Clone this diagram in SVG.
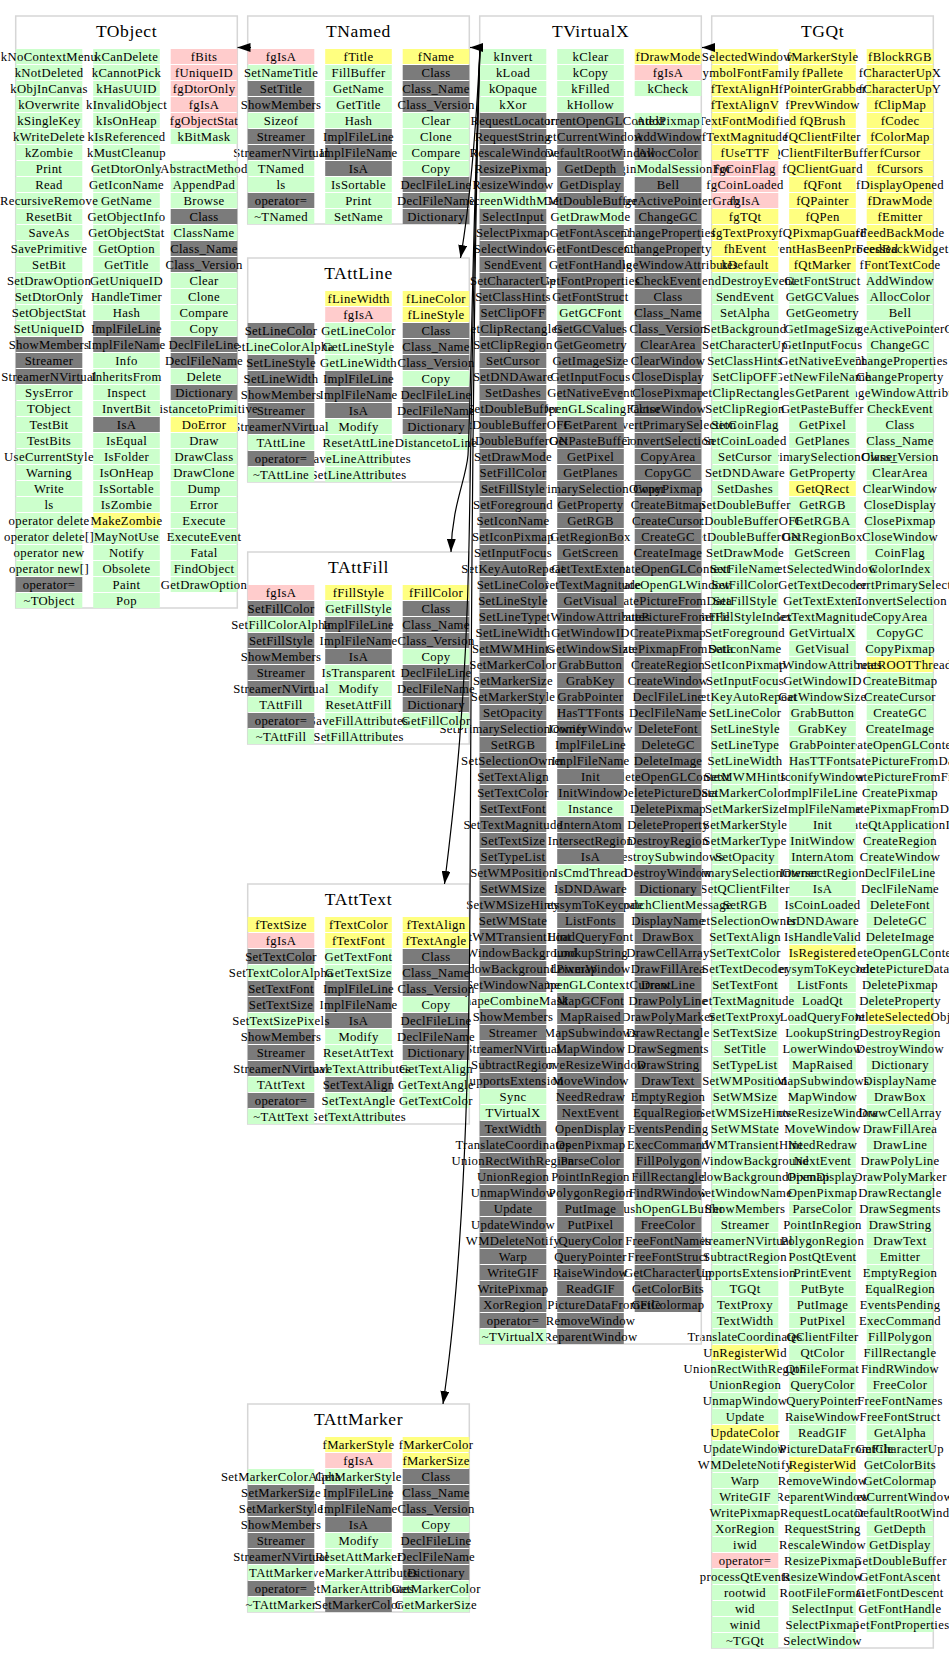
<svg xmlns="http://www.w3.org/2000/svg" width="949" height="1664" viewBox="0 0 949 1664">
<style>
.b{fill:none;stroke:#d6d6d6;stroke-width:1.5}
.n text{font-family:"Liberation Serif",serif;font-size:12.7px;letter-spacing:.35px;text-anchor:middle;fill:#000}
.n text.t{font-size:17.5px;letter-spacing:.6px}
.g{fill:url(#pg)}.y{fill:url(#py)}.p{fill:url(#pp)}.d{fill:url(#pd)}
.e path{fill:none;stroke:#000;stroke-width:1.2;marker-end:url(#ah)}
</style>
<defs>
<pattern id="pg" x="-40" width="80" height="16" patternUnits="userSpaceOnUse"><rect width="80" height="15" fill="#ccffcc"/></pattern>
<pattern id="py" x="-40" width="80" height="16" patternUnits="userSpaceOnUse"><rect width="80" height="15" fill="#ffff80"/></pattern>
<pattern id="pp" x="-40" width="80" height="16" patternUnits="userSpaceOnUse"><rect width="80" height="15" fill="#ffcccc"/></pattern>
<pattern id="pd" x="-40" width="80" height="16" patternUnits="userSpaceOnUse"><rect width="80" height="15" fill="#7b7b7b"/></pattern>
<marker id="ah" viewBox="0 0 13 9" refX="13" refY="4.5" markerWidth="13" markerHeight="9" markerUnits="userSpaceOnUse" orient="auto"><path d="M0,0L13,4.5L0,9z" fill="#000"/></marker>
</defs>
<rect width="949" height="1664" fill="#fff"/>

<g id="TGQt" class="n">
<rect class="b" x="711.7" y="16" width="221.6" height="1632"/>
<text class="t" x="822.5" y="36.5">TGQt</text>
<g transform="translate(900,49)">
<rect class="y" x="-33.3" y="0" width="66.6" height="224"/><rect class="g" x="-33.3" y="224" width="66.6" height="384"/><rect class="y" x="-33.3" y="608" width="66.6" height="16"/><rect class="g" x="-33.3" y="624" width="66.6" height="336"/><rect class="y" x="-33.3" y="960" width="66.6" height="16"/><rect class="g" x="-33.3" y="976" width="66.6" height="608"/>
<text y="12">fBlockRGB</text><text y="28">fCharacterUpX</text><text y="44">fCharacterUpY</text><text y="60">fClipMap</text><text y="76">fCodec</text><text y="92">fColorMap</text><text y="108">fCursor</text><text y="124">fCursors</text><text y="140">fDisplayOpened</text><text y="156">fDrawMode</text><text y="172">fEmitter</text><text y="188">fFeedBackMode</text><text y="204">fFeedBackWidget</text><text y="220">fFontTextCode</text><text y="236">AddWindow</text><text y="252">AllocColor</text><text y="268">Bell</text><text y="284">ChangeActivePointerGrab</text><text y="300">ChangeGC</text><text y="316">ChangeProperties</text><text y="332">ChangeProperty</text><text y="348">ChangeWindowAttributes</text><text y="364">CheckEvent</text><text y="380">Class</text><text y="396">Class_Name</text><text y="412">Class_Version</text><text y="428">ClearArea</text><text y="444">ClearWindow</text><text y="460">CloseDisplay</text><text y="476">ClosePixmap</text><text y="492">CloseWindow</text><text y="508">CoinFlag</text><text y="524">ColorIndex</text><text y="540">ConvertPrimarySelection</text><text y="556">ConvertSelection</text><text y="572">CopyArea</text><text y="588">CopyGC</text><text y="604">CopyPixmap</text><text y="620">CreatROOTThread</text><text y="636">CreateBitmap</text><text y="652">CreateCursor</text><text y="668">CreateGC</text><text y="684">CreateImage</text><text y="700">CreateOpenGLContext</text><text y="716">CreatePictureFromData</text><text y="732">CreatePictureFromFile</text><text y="748">CreatePixmap</text><text y="764">CreatePixmapFromData</text><text y="780">CreateQtApplicationImp</text><text y="796">CreateRegion</text><text y="812">CreateWindow</text><text y="828">DeclFileLine</text><text y="844">DeclFileName</text><text y="860">DeleteFont</text><text y="876">DeleteGC</text><text y="892">DeleteImage</text><text y="908">DeleteOpenGLContext</text><text y="924">DeletePictureData</text><text y="940">DeletePixmap</text><text y="956">DeleteProperty</text><text y="972">DeleteSelectedObj</text><text y="988">DestroyRegion</text><text y="1004">DestroyWindow</text><text y="1020">Dictionary</text><text y="1036">DisplayName</text><text y="1052">DrawBox</text><text y="1068">DrawCellArray</text><text y="1084">DrawFillArea</text><text y="1100">DrawLine</text><text y="1116">DrawPolyLine</text><text y="1132">DrawPolyMarker</text><text y="1148">DrawRectangle</text><text y="1164">DrawSegments</text><text y="1180">DrawString</text><text y="1196">DrawText</text><text y="1212">Emitter</text><text y="1228">EmptyRegion</text><text y="1244">EqualRegion</text><text y="1260">EventsPending</text><text y="1276">ExecCommand</text><text y="1292">FillPolygon</text><text y="1308">FillRectangle</text><text y="1324">FindRWindow</text><text y="1340">FreeColor</text><text y="1356">FreeFontNames</text><text y="1372">FreeFontStruct</text><text y="1388">GetAlpha</text><text y="1404">GetCharacterUp</text><text y="1420">GetColorBits</text><text y="1436">GetColormap</text><text y="1452">GetCurrentWindow</text><text y="1468">GetDefaultRootWindow</text><text y="1484">GetDepth</text><text y="1500">GetDisplay</text><text y="1516">GetDoubleBuffer</text><text y="1532">GetFontAscent</text><text y="1548">GetFontDescent</text><text y="1564">GetFontHandle</text><text y="1580">GetFontProperties</text>
</g>
<g transform="translate(822.5,49)">
<rect class="y" x="-33.3" y="0" width="66.6" height="224"/><rect class="g" x="-33.3" y="224" width="66.6" height="208"/><rect class="y" x="-33.3" y="432" width="66.6" height="16"/><rect class="g" x="-33.3" y="448" width="66.6" height="448"/><rect class="y" x="-33.3" y="896" width="66.6" height="16"/><rect class="g" x="-33.3" y="912" width="66.6" height="496"/><rect class="y" x="-33.3" y="1408" width="66.6" height="16"/><rect class="g" x="-33.3" y="1424" width="66.6" height="176"/>
<text y="12">fMarkerStyle</text><text y="28">fPallete</text><text y="44">fPointerGrabber</text><text y="60">fPrevWindow</text><text y="76">fQBrush</text><text y="92">fQClientFilter</text><text y="108">fQClientFilterBuffer</text><text y="124">fQClientGuard</text><text y="140">fQFont</text><text y="156">fQPainter</text><text y="172">fQPen</text><text y="188">fQPixmapGuard</text><text y="204">fQtEventHasBeenProcessed</text><text y="220">fQtMarker</text><text y="236">GetFontStruct</text><text y="252">GetGCValues</text><text y="268">GetGeometry</text><text y="284">GetImageSize</text><text y="300">GetInputFocus</text><text y="316">GetNativeEvent</text><text y="332">GetNewFileName</text><text y="348">GetParent</text><text y="364">GetPasteBuffer</text><text y="380">GetPixel</text><text y="396">GetPlanes</text><text y="412">GetPrimarySelectionOwner</text><text y="428">GetProperty</text><text y="444">GetQRect</text><text y="460">GetRGB</text><text y="476">GetRGBA</text><text y="492">GetRegionBox</text><text y="508">GetScreen</text><text y="524">GetSelectedWindow</text><text y="540">GetTextDecoder</text><text y="556">GetTextExtent</text><text y="572">GetTextMagnitude</text><text y="588">GetVirtualX</text><text y="604">GetVisual</text><text y="620">GetWindowAttributes</text><text y="636">GetWindowID</text><text y="652">GetWindowSize</text><text y="668">GrabButton</text><text y="684">GrabKey</text><text y="700">GrabPointer</text><text y="716">HasTTFonts</text><text y="732">IconifyWindow</text><text y="748">ImplFileLine</text><text y="764">ImplFileName</text><text y="780">Init</text><text y="796">InitWindow</text><text y="812">InternAtom</text><text y="828">IntersectRegion</text><text y="844">IsA</text><text y="860">IsCoinLoaded</text><text y="876">IsDNDAware</text><text y="892">IsHandleValid</text><text y="908">IsRegistered</text><text y="924">KeysymToKeycode</text><text y="940">ListFonts</text><text y="956">LoadQt</text><text y="972">LoadQueryFont</text><text y="988">LookupString</text><text y="1004">LowerWindow</text><text y="1020">MapRaised</text><text y="1036">MapSubwindows</text><text y="1052">MapWindow</text><text y="1068">MoveResizeWindow</text><text y="1084">MoveWindow</text><text y="1100">NeedRedraw</text><text y="1116">NextEvent</text><text y="1132">OpenDisplay</text><text y="1148">OpenPixmap</text><text y="1164">ParseColor</text><text y="1180">PointInRegion</text><text y="1196">PolygonRegion</text><text y="1212">PostQtEvent</text><text y="1228">PrintEvent</text><text y="1244">PutByte</text><text y="1260">PutImage</text><text y="1276">PutPixel</text><text y="1292">QClientFilter</text><text y="1308">QtColor</text><text y="1324">QtFileFormat</text><text y="1340">QueryColor</text><text y="1356">QueryPointer</text><text y="1372">RaiseWindow</text><text y="1388">ReadGIF</text><text y="1404">ReadPictureDataFromFile</text><text y="1420">RegisterWid</text><text y="1436">RemoveWindow</text><text y="1452">ReparentWindow</text><text y="1468">RequestLocator</text><text y="1484">RequestString</text><text y="1500">RescaleWindow</text><text y="1516">ResizePixmap</text><text y="1532">ResizeWindow</text><text y="1548">RootFileFormat</text><text y="1564">SelectInput</text><text y="1580">SelectPixmap</text><text y="1596">SelectWindow</text>
</g>
<g transform="translate(745,49)">
<rect class="y" x="-33.3" y="0" width="66.6" height="112"/><rect class="p" x="-33.3" y="112" width="66.6" height="48"/><rect class="y" x="-33.3" y="160" width="66.6" height="64"/><rect class="g" x="-33.3" y="224" width="66.6" height="1072"/><rect class="y" x="-33.3" y="1296" width="66.6" height="16"/><rect class="g" x="-33.3" y="1312" width="66.6" height="64"/><rect class="y" x="-33.3" y="1376" width="66.6" height="16"/><rect class="g" x="-33.3" y="1392" width="66.6" height="112"/><rect class="p" x="-33.3" y="1504" width="66.6" height="16"/><rect class="g" x="-33.3" y="1520" width="66.6" height="80"/>
<text y="12">fSelectedWindow</text><text y="28">fSymbolFontFamily</text><text y="44">fTextAlignH</text><text y="60">fTextAlignV</text><text y="76">fTextFontModified</text><text y="92">fTextMagnitude</text><text y="108">fUseTTF</text><text y="124">fgCoinFlag</text><text y="140">fgCoinLoaded</text><text y="156">fgIsA</text><text y="172">fgTQt</text><text y="188">fgTextProxy</text><text y="204">fhEvent</text><text y="220">kDefault</text><text y="236">SendDestroyEvent</text><text y="252">SendEvent</text><text y="268">SetAlpha</text><text y="284">SetBackground</text><text y="300">SetCharacterUp</text><text y="316">SetClassHints</text><text y="332">SetClipOFF</text><text y="348">SetClipRectangles</text><text y="364">SetClipRegion</text><text y="380">SetCoinFlag</text><text y="396">SetCoinLoaded</text><text y="412">SetCursor</text><text y="428">SetDNDAware</text><text y="444">SetDashes</text><text y="460">SetDoubleBuffer</text><text y="476">SetDoubleBufferOFF</text><text y="492">SetDoubleBufferON</text><text y="508">SetDrawMode</text><text y="524">SetFileName</text><text y="540">SetFillColor</text><text y="556">SetFillStyle</text><text y="572">SetFillStyleIndex</text><text y="588">SetForeground</text><text y="604">SetIconName</text><text y="620">SetIconPixmap</text><text y="636">SetInputFocus</text><text y="652">SetKeyAutoRepeat</text><text y="668">SetLineColor</text><text y="684">SetLineStyle</text><text y="700">SetLineType</text><text y="716">SetLineWidth</text><text y="732">SetMWMHints</text><text y="748">SetMarkerColor</text><text y="764">SetMarkerSize</text><text y="780">SetMarkerStyle</text><text y="796">SetMarkerType</text><text y="812">SetOpacity</text><text y="828">SetPrimarySelectionOwner</text><text y="844">SetQClientFilter</text><text y="860">SetRGB</text><text y="876">SetSelectionOwner</text><text y="892">SetTextAlign</text><text y="908">SetTextColor</text><text y="924">SetTextDecoder</text><text y="940">SetTextFont</text><text y="956">SetTextMagnitude</text><text y="972">SetTextProxy</text><text y="988">SetTextSize</text><text y="1004">SetTitle</text><text y="1020">SetTypeList</text><text y="1036">SetWMPosition</text><text y="1052">SetWMSize</text><text y="1068">SetWMSizeHints</text><text y="1084">SetWMState</text><text y="1100">SetWMTransientHint</text><text y="1116">SetWindowBackground</text><text y="1132">SetWindowBackgroundPixmap</text><text y="1148">SetWindowName</text><text y="1164">ShowMembers</text><text y="1180">Streamer</text><text y="1196">StreamerNVirtual</text><text y="1212">SubtractRegion</text><text y="1228">SupportsExtension</text><text y="1244">TGQt</text><text y="1260">TextProxy</text><text y="1276">TextWidth</text><text y="1292">TranslateCoordinates</text><text y="1308">UnRegisterWid</text><text y="1324">UnionRectWithRegion</text><text y="1340">UnionRegion</text><text y="1356">UnmapWindow</text><text y="1372">Update</text><text y="1388">UpdateColor</text><text y="1404">UpdateWindow</text><text y="1420">WMDeleteNotify</text><text y="1436">Warp</text><text y="1452">WriteGIF</text><text y="1468">WritePixmap</text><text y="1484">XorRegion</text><text y="1500">iwid</text><text y="1516">operator=</text><text y="1532">processQtEvents</text><text y="1548">rootwid</text><text y="1564">wid</text><text y="1580">winid</text><text y="1596">~TGQt</text>
</g>
</g>

<g id="TVirtualX" class="n">
<rect class="b" x="479.7" y="16" width="221.6" height="1328"/>
<text class="t" x="590.5" y="36.5">TVirtualX</text>
<g transform="translate(668,49)">
<rect class="y" x="-33.3" y="0" width="66.6" height="16"/><rect class="p" x="-33.3" y="16" width="66.6" height="16"/><rect class="g" x="-33.3" y="32" width="66.6" height="16"/><rect class="g" x="-33.3" y="64" width="66.6" height="16"/><rect class="d" x="-33.3" y="80" width="66.6" height="32"/><rect class="g" x="-33.3" y="112" width="66.6" height="16"/><rect class="d" x="-33.3" y="128" width="66.6" height="400"/><rect class="g" x="-33.3" y="528" width="66.6" height="16"/><rect class="d" x="-33.3" y="544" width="66.6" height="256"/><rect class="g" x="-33.3" y="800" width="66.6" height="16"/><rect class="d" x="-33.3" y="816" width="66.6" height="32"/><rect class="g" x="-33.3" y="848" width="66.6" height="16"/><rect class="d" x="-33.3" y="864" width="66.6" height="288"/><rect class="g" x="-33.3" y="1152" width="66.6" height="16"/><rect class="d" x="-33.3" y="1168" width="66.6" height="96"/>
<text y="12">fDrawMode</text><text y="28">fgIsA</text><text y="44">kCheck</text><text y="76">AddPixmap</text><text y="92">AddWindow</text><text y="108">AllocColor</text><text y="124">BeginModalSessionFor</text><text y="140">Bell</text><text y="156">ChangeActivePointerGrab</text><text y="172">ChangeGC</text><text y="188">ChangeProperties</text><text y="204">ChangeProperty</text><text y="220">ChangeWindowAttributes</text><text y="236">CheckEvent</text><text y="252">Class</text><text y="268">Class_Name</text><text y="284">Class_Version</text><text y="300">ClearArea</text><text y="316">ClearWindow</text><text y="332">CloseDisplay</text><text y="348">ClosePixmap</text><text y="364">CloseWindow</text><text y="380">ConvertPrimarySelection</text><text y="396">ConvertSelection</text><text y="412">CopyArea</text><text y="428">CopyGC</text><text y="444">CopyPixmap</text><text y="460">CreateBitmap</text><text y="476">CreateCursor</text><text y="492">CreateGC</text><text y="508">CreateImage</text><text y="524">CreateOpenGLContext</text><text y="540">CreateOpenGLWindow</text><text y="556">CreatePictureFromData</text><text y="572">CreatePictureFromFile</text><text y="588">CreatePixmap</text><text y="604">CreatePixmapFromData</text><text y="620">CreateRegion</text><text y="636">CreateWindow</text><text y="652">DeclFileLine</text><text y="668">DeclFileName</text><text y="684">DeleteFont</text><text y="700">DeleteGC</text><text y="716">DeleteImage</text><text y="732">DeleteOpenGLContext</text><text y="748">DeletePictureData</text><text y="764">DeletePixmap</text><text y="780">DeleteProperty</text><text y="796">DestroyRegion</text><text y="812">DestroySubwindows</text><text y="828">DestroyWindow</text><text y="844">Dictionary</text><text y="860">DispatchClientMessage</text><text y="876">DisplayName</text><text y="892">DrawBox</text><text y="908">DrawCellArray</text><text y="924">DrawFillArea</text><text y="940">DrawLine</text><text y="956">DrawPolyLine</text><text y="972">DrawPolyMarker</text><text y="988">DrawRectangle</text><text y="1004">DrawSegments</text><text y="1020">DrawString</text><text y="1036">DrawText</text><text y="1052">EmptyRegion</text><text y="1068">EqualRegion</text><text y="1084">EventsPending</text><text y="1100">ExecCommand</text><text y="1116">FillPolygon</text><text y="1132">FillRectangle</text><text y="1148">FindRWindow</text><text y="1164">FlushOpenGLBuffer</text><text y="1180">FreeColor</text><text y="1196">FreeFontNames</text><text y="1212">FreeFontStruct</text><text y="1228">GetCharacterUp</text><text y="1244">GetColorBits</text><text y="1260">GetColormap</text>
</g>
<g transform="translate(590.5,49)">
<rect class="g" x="-33.3" y="0" width="66.6" height="64"/><rect class="d" x="-33.3" y="64" width="66.6" height="96"/><rect class="g" x="-33.3" y="160" width="66.6" height="16"/><rect class="d" x="-33.3" y="176" width="66.6" height="80"/><rect class="g" x="-33.3" y="256" width="66.6" height="16"/><rect class="d" x="-33.3" y="272" width="66.6" height="80"/><rect class="g" x="-33.3" y="352" width="66.6" height="16"/><rect class="d" x="-33.3" y="368" width="66.6" height="384"/><rect class="g" x="-33.3" y="752" width="66.6" height="16"/><rect class="d" x="-33.3" y="768" width="66.6" height="48"/><rect class="g" x="-33.3" y="816" width="66.6" height="16"/><rect class="d" x="-33.3" y="832" width="66.6" height="96"/><rect class="g" x="-33.3" y="928" width="66.6" height="16"/><rect class="d" x="-33.3" y="944" width="66.6" height="352"/>
<text y="12">kClear</text><text y="28">kCopy</text><text y="44">kFilled</text><text y="60">kHollow</text><text y="76">GetCurrentOpenGLContext</text><text y="92">GetCurrentWindow</text><text y="108">GetDefaultRootWindow</text><text y="124">GetDepth</text><text y="140">GetDisplay</text><text y="156">GetDoubleBuffer</text><text y="172">GetDrawMode</text><text y="188">GetFontAscent</text><text y="204">GetFontDescent</text><text y="220">GetFontHandle</text><text y="236">GetFontProperties</text><text y="252">GetFontStruct</text><text y="268">GetGCFont</text><text y="284">GetGCValues</text><text y="300">GetGeometry</text><text y="316">GetImageSize</text><text y="332">GetInputFocus</text><text y="348">GetNativeEvent</text><text y="364">GetOpenGLScalingFactor</text><text y="380">GetParent</text><text y="396">GetPasteBuffer</text><text y="412">GetPixel</text><text y="428">GetPlanes</text><text y="444">GetPrimarySelectionOwner</text><text y="460">GetProperty</text><text y="476">GetRGB</text><text y="492">GetRegionBox</text><text y="508">GetScreen</text><text y="524">GetTextExtent</text><text y="540">GetTextMagnitude</text><text y="556">GetVisual</text><text y="572">GetWindowAttributes</text><text y="588">GetWindowID</text><text y="604">GetWindowSize</text><text y="620">GrabButton</text><text y="636">GrabKey</text><text y="652">GrabPointer</text><text y="668">HasTTFonts</text><text y="684">IconifyWindow</text><text y="700">ImplFileLine</text><text y="716">ImplFileName</text><text y="732">Init</text><text y="748">InitWindow</text><text y="764">Instance</text><text y="780">InternAtom</text><text y="796">IntersectRegion</text><text y="812">IsA</text><text y="828">IsCmdThread</text><text y="844">IsDNDAware</text><text y="860">KeysymToKeycode</text><text y="876">ListFonts</text><text y="892">LoadQueryFont</text><text y="908">LookupString</text><text y="924">LowerWindow</text><text y="940">MakeOpenGLContextCurrent</text><text y="956">MapGCFont</text><text y="972">MapRaised</text><text y="988">MapSubwindows</text><text y="1004">MapWindow</text><text y="1020">MoveResizeWindow</text><text y="1036">MoveWindow</text><text y="1052">NeedRedraw</text><text y="1068">NextEvent</text><text y="1084">OpenDisplay</text><text y="1100">OpenPixmap</text><text y="1116">ParseColor</text><text y="1132">PointInRegion</text><text y="1148">PolygonRegion</text><text y="1164">PutImage</text><text y="1180">PutPixel</text><text y="1196">QueryColor</text><text y="1212">QueryPointer</text><text y="1228">RaiseWindow</text><text y="1244">ReadGIF</text><text y="1260">ReadPictureDataFromFile</text><text y="1276">RemoveWindow</text><text y="1292">ReparentWindow</text>
</g>
<g transform="translate(513,49)">
<rect class="g" x="-33.3" y="0" width="66.6" height="64"/><rect class="d" x="-33.3" y="64" width="66.6" height="80"/><rect class="g" x="-33.3" y="144" width="66.6" height="16"/><rect class="d" x="-33.3" y="160" width="66.6" height="784"/><rect class="g" x="-33.3" y="944" width="66.6" height="16"/><rect class="d" x="-33.3" y="960" width="66.6" height="80"/><rect class="g" x="-33.3" y="1040" width="66.6" height="32"/><rect class="d" x="-33.3" y="1072" width="66.6" height="208"/><rect class="g" x="-33.3" y="1280" width="66.6" height="16"/>
<text y="12">kInvert</text><text y="28">kLoad</text><text y="44">kOpaque</text><text y="60">kXor</text><text y="76">RequestLocator</text><text y="92">RequestString</text><text y="108">RescaleWindow</text><text y="124">ResizePixmap</text><text y="140">ResizeWindow</text><text y="156">ScreenWidthMM</text><text y="172">SelectInput</text><text y="188">SelectPixmap</text><text y="204">SelectWindow</text><text y="220">SendEvent</text><text y="236">SetCharacterUp</text><text y="252">SetClassHints</text><text y="268">SetClipOFF</text><text y="284">SetClipRectangles</text><text y="300">SetClipRegion</text><text y="316">SetCursor</text><text y="332">SetDNDAware</text><text y="348">SetDashes</text><text y="364">SetDoubleBuffer</text><text y="380">SetDoubleBufferOFF</text><text y="396">SetDoubleBufferON</text><text y="412">SetDrawMode</text><text y="428">SetFillColor</text><text y="444">SetFillStyle</text><text y="460">SetForeground</text><text y="476">SetIconName</text><text y="492">SetIconPixmap</text><text y="508">SetInputFocus</text><text y="524">SetKeyAutoRepeat</text><text y="540">SetLineColor</text><text y="556">SetLineStyle</text><text y="572">SetLineType</text><text y="588">SetLineWidth</text><text y="604">SetMWMHints</text><text y="620">SetMarkerColor</text><text y="636">SetMarkerSize</text><text y="652">SetMarkerStyle</text><text y="668">SetOpacity</text><text y="684">SetPrimarySelectionOwner</text><text y="700">SetRGB</text><text y="716">SetSelectionOwner</text><text y="732">SetTextAlign</text><text y="748">SetTextColor</text><text y="764">SetTextFont</text><text y="780">SetTextMagnitude</text><text y="796">SetTextSize</text><text y="812">SetTypeList</text><text y="828">SetWMPosition</text><text y="844">SetWMSize</text><text y="860">SetWMSizeHints</text><text y="876">SetWMState</text><text y="892">SetWMTransientHint</text><text y="908">SetWindowBackground</text><text y="924">SetWindowBackgroundPixmap</text><text y="940">SetWindowName</text><text y="956">ShapeCombineMask</text><text y="972">ShowMembers</text><text y="988">Streamer</text><text y="1004">StreamerNVirtual</text><text y="1020">SubtractRegion</text><text y="1036">SupportsExtension</text><text y="1052">Sync</text><text y="1068">TVirtualX</text><text y="1084">TextWidth</text><text y="1100">TranslateCoordinates</text><text y="1116">UnionRectWithRegion</text><text y="1132">UnionRegion</text><text y="1148">UnmapWindow</text><text y="1164">Update</text><text y="1180">UpdateWindow</text><text y="1196">WMDeleteNotify</text><text y="1212">Warp</text><text y="1228">WriteGIF</text><text y="1244">WritePixmap</text><text y="1260">XorRegion</text><text y="1276">operator=</text><text y="1292">~TVirtualX</text>
</g>
</g>

<g id="TAttMarker" class="n">
<rect class="b" x="247.7" y="1404" width="221.6" height="208"/>
<text class="t" x="358.5" y="1424.5">TAttMarker</text>
<g transform="translate(436,1437)">
<rect class="y" x="-33.3" y="0" width="66.6" height="32"/><rect class="d" x="-33.3" y="32" width="66.6" height="48"/><rect class="g" x="-33.3" y="80" width="66.6" height="16"/><rect class="d" x="-33.3" y="96" width="66.6" height="48"/><rect class="g" x="-33.3" y="144" width="66.6" height="32"/>
<text y="12">fMarkerColor</text><text y="28">fMarkerSize</text><text y="44">Class</text><text y="60">Class_Name</text><text y="76">Class_Version</text><text y="92">Copy</text><text y="108">DeclFileLine</text><text y="124">DeclFileName</text><text y="140">Dictionary</text><text y="156">GetMarkerColor</text><text y="172">GetMarkerSize</text>
</g>
<g transform="translate(358.5,1437)">
<rect class="y" x="-33.3" y="0" width="66.6" height="16"/><rect class="p" x="-33.3" y="16" width="66.6" height="16"/><rect class="g" x="-33.3" y="32" width="66.6" height="16"/><rect class="d" x="-33.3" y="48" width="66.6" height="48"/><rect class="g" x="-33.3" y="96" width="66.6" height="64"/><rect class="d" x="-33.3" y="160" width="66.6" height="16"/>
<text y="12">fMarkerStyle</text><text y="28">fgIsA</text><text y="44">GetMarkerStyle</text><text y="60">ImplFileLine</text><text y="76">ImplFileName</text><text y="92">IsA</text><text y="108">Modify</text><text y="124">ResetAttMarker</text><text y="140">SaveMarkerAttributes</text><text y="156">SetMarkerAttributes</text><text y="172">SetMarkerColor</text>
</g>
<g transform="translate(281,1437)">
<rect class="g" x="-33.3" y="32" width="66.6" height="16"/><rect class="d" x="-33.3" y="48" width="66.6" height="80"/><rect class="g" x="-33.3" y="128" width="66.6" height="16"/><rect class="d" x="-33.3" y="144" width="66.6" height="16"/><rect class="g" x="-33.3" y="160" width="66.6" height="16"/>
<text y="44">SetMarkerColorAlpha</text><text y="60">SetMarkerSize</text><text y="76">SetMarkerStyle</text><text y="92">ShowMembers</text><text y="108">Streamer</text><text y="124">StreamerNVirtual</text><text y="140">TAttMarker</text><text y="156">operator=</text><text y="172">~TAttMarker</text>
</g>
</g>

<g id="TAttText" class="n">
<rect class="b" x="247.7" y="884" width="221.6" height="240"/>
<text class="t" x="358.5" y="904.5">TAttText</text>
<g transform="translate(436,917)">
<rect class="y" x="-33.3" y="0" width="66.6" height="32"/><rect class="d" x="-33.3" y="32" width="66.6" height="48"/><rect class="g" x="-33.3" y="80" width="66.6" height="16"/><rect class="d" x="-33.3" y="96" width="66.6" height="48"/><rect class="g" x="-33.3" y="144" width="66.6" height="48"/>
<text y="12">fTextAlign</text><text y="28">fTextAngle</text><text y="44">Class</text><text y="60">Class_Name</text><text y="76">Class_Version</text><text y="92">Copy</text><text y="108">DeclFileLine</text><text y="124">DeclFileName</text><text y="140">Dictionary</text><text y="156">GetTextAlign</text><text y="172">GetTextAngle</text><text y="188">GetTextColor</text>
</g>
<g transform="translate(358.5,917)">
<rect class="y" x="-33.3" y="0" width="66.6" height="32"/><rect class="g" x="-33.3" y="32" width="66.6" height="32"/><rect class="d" x="-33.3" y="64" width="66.6" height="48"/><rect class="g" x="-33.3" y="112" width="66.6" height="48"/><rect class="d" x="-33.3" y="160" width="66.6" height="16"/><rect class="g" x="-33.3" y="176" width="66.6" height="32"/>
<text y="12">fTextColor</text><text y="28">fTextFont</text><text y="44">GetTextFont</text><text y="60">GetTextSize</text><text y="76">ImplFileLine</text><text y="92">ImplFileName</text><text y="108">IsA</text><text y="124">Modify</text><text y="140">ResetAttText</text><text y="156">SaveTextAttributes</text><text y="172">SetTextAlign</text><text y="188">SetTextAngle</text><text y="204">SetTextAttributes</text>
</g>
<g transform="translate(281,917)">
<rect class="y" x="-33.3" y="0" width="66.6" height="16"/><rect class="p" x="-33.3" y="16" width="66.6" height="16"/><rect class="d" x="-33.3" y="32" width="66.6" height="16"/><rect class="g" x="-33.3" y="48" width="66.6" height="16"/><rect class="d" x="-33.3" y="64" width="66.6" height="32"/><rect class="g" x="-33.3" y="96" width="66.6" height="16"/><rect class="d" x="-33.3" y="112" width="66.6" height="48"/><rect class="g" x="-33.3" y="160" width="66.6" height="16"/><rect class="d" x="-33.3" y="176" width="66.6" height="16"/><rect class="g" x="-33.3" y="192" width="66.6" height="16"/>
<text y="12">fTextSize</text><text y="28">fgIsA</text><text y="44">SetTextColor</text><text y="60">SetTextColorAlpha</text><text y="76">SetTextFont</text><text y="92">SetTextSize</text><text y="108">SetTextSizePixels</text><text y="124">ShowMembers</text><text y="140">Streamer</text><text y="156">StreamerNVirtual</text><text y="172">TAttText</text><text y="188">operator=</text><text y="204">~TAttText</text>
</g>
</g>

<g id="TAttFill" class="n">
<rect class="b" x="247.7" y="552" width="221.6" height="192"/>
<text class="t" x="358.5" y="572.5">TAttFill</text>
<g transform="translate(436,585)">
<rect class="y" x="-33.3" y="0" width="66.6" height="16"/><rect class="d" x="-33.3" y="16" width="66.6" height="48"/><rect class="g" x="-33.3" y="64" width="66.6" height="16"/><rect class="d" x="-33.3" y="80" width="66.6" height="48"/><rect class="g" x="-33.3" y="128" width="66.6" height="16"/>
<text y="12">fFillColor</text><text y="28">Class</text><text y="44">Class_Name</text><text y="60">Class_Version</text><text y="76">Copy</text><text y="92">DeclFileLine</text><text y="108">DeclFileName</text><text y="124">Dictionary</text><text y="140">GetFillColor</text>
</g>
<g transform="translate(358.5,585)">
<rect class="y" x="-33.3" y="0" width="66.6" height="16"/><rect class="g" x="-33.3" y="16" width="66.6" height="16"/><rect class="d" x="-33.3" y="32" width="66.6" height="48"/><rect class="g" x="-33.3" y="80" width="66.6" height="80"/>
<text y="12">fFillStyle</text><text y="28">GetFillStyle</text><text y="44">ImplFileLine</text><text y="60">ImplFileName</text><text y="76">IsA</text><text y="92">IsTransparent</text><text y="108">Modify</text><text y="124">ResetAttFill</text><text y="140">SaveFillAttributes</text><text y="156">SetFillAttributes</text>
</g>
<g transform="translate(281,585)">
<rect class="p" x="-33.3" y="0" width="66.6" height="16"/><rect class="d" x="-33.3" y="16" width="66.6" height="16"/><rect class="g" x="-33.3" y="32" width="66.6" height="16"/><rect class="d" x="-33.3" y="48" width="66.6" height="64"/><rect class="g" x="-33.3" y="112" width="66.6" height="16"/><rect class="d" x="-33.3" y="128" width="66.6" height="16"/><rect class="g" x="-33.3" y="144" width="66.6" height="16"/>
<text y="12">fgIsA</text><text y="28">SetFillColor</text><text y="44">SetFillColorAlpha</text><text y="60">SetFillStyle</text><text y="76">ShowMembers</text><text y="92">Streamer</text><text y="108">StreamerNVirtual</text><text y="124">TAttFill</text><text y="140">operator=</text><text y="156">~TAttFill</text>
</g>
</g>

<g id="TAttLine" class="n">
<rect class="b" x="247.7" y="258" width="221.6" height="224"/>
<text class="t" x="358.5" y="278.5">TAttLine</text>
<g transform="translate(436,291)">
<rect class="y" x="-33.3" y="0" width="66.6" height="32"/><rect class="d" x="-33.3" y="32" width="66.6" height="48"/><rect class="g" x="-33.3" y="80" width="66.6" height="16"/><rect class="d" x="-33.3" y="96" width="66.6" height="48"/><rect class="g" x="-33.3" y="144" width="66.6" height="16"/>
<text y="12">fLineColor</text><text y="28">fLineStyle</text><text y="44">Class</text><text y="60">Class_Name</text><text y="76">Class_Version</text><text y="92">Copy</text><text y="108">DeclFileLine</text><text y="124">DeclFileName</text><text y="140">Dictionary</text><text y="156">DistancetoLine</text>
</g>
<g transform="translate(358.5,291)">
<rect class="y" x="-33.3" y="0" width="66.6" height="16"/><rect class="p" x="-33.3" y="16" width="66.6" height="16"/><rect class="g" x="-33.3" y="32" width="66.6" height="48"/><rect class="d" x="-33.3" y="80" width="66.6" height="48"/><rect class="g" x="-33.3" y="128" width="66.6" height="64"/>
<text y="12">fLineWidth</text><text y="28">fgIsA</text><text y="44">GetLineColor</text><text y="60">GetLineStyle</text><text y="76">GetLineWidth</text><text y="92">ImplFileLine</text><text y="108">ImplFileName</text><text y="124">IsA</text><text y="140">Modify</text><text y="156">ResetAttLine</text><text y="172">SaveLineAttributes</text><text y="188">SetLineAttributes</text>
</g>
<g transform="translate(281,291)">
<rect class="d" x="-33.3" y="32" width="66.6" height="16"/><rect class="g" x="-33.3" y="48" width="66.6" height="16"/><rect class="d" x="-33.3" y="64" width="66.6" height="80"/><rect class="g" x="-33.3" y="144" width="66.6" height="16"/><rect class="d" x="-33.3" y="160" width="66.6" height="16"/><rect class="g" x="-33.3" y="176" width="66.6" height="16"/>
<text y="44">SetLineColor</text><text y="60">SetLineColorAlpha</text><text y="76">SetLineStyle</text><text y="92">SetLineWidth</text><text y="108">ShowMembers</text><text y="124">Streamer</text><text y="140">StreamerNVirtual</text><text y="156">TAttLine</text><text y="172">operator=</text><text y="188">~TAttLine</text>
</g>
</g>

<g id="TNamed" class="n">
<rect class="b" x="247.7" y="16" width="221.6" height="208"/>
<text class="t" x="358.5" y="36.5">TNamed</text>
<g transform="translate(436,49)">
<rect class="y" x="-33.3" y="0" width="66.6" height="16"/><rect class="d" x="-33.3" y="16" width="66.6" height="48"/><rect class="g" x="-33.3" y="64" width="66.6" height="64"/><rect class="d" x="-33.3" y="128" width="66.6" height="48"/>
<text y="12">fName</text><text y="28">Class</text><text y="44">Class_Name</text><text y="60">Class_Version</text><text y="76">Clear</text><text y="92">Clone</text><text y="108">Compare</text><text y="124">Copy</text><text y="140">DeclFileLine</text><text y="156">DeclFileName</text><text y="172">Dictionary</text>
</g>
<g transform="translate(358.5,49)">
<rect class="y" x="-33.3" y="0" width="66.6" height="16"/><rect class="g" x="-33.3" y="16" width="66.6" height="64"/><rect class="d" x="-33.3" y="80" width="66.6" height="48"/><rect class="g" x="-33.3" y="128" width="66.6" height="48"/>
<text y="12">fTitle</text><text y="28">FillBuffer</text><text y="44">GetName</text><text y="60">GetTitle</text><text y="76">Hash</text><text y="92">ImplFileLine</text><text y="108">ImplFileName</text><text y="124">IsA</text><text y="140">IsSortable</text><text y="156">Print</text><text y="172">SetName</text>
</g>
<g transform="translate(281,49)">
<rect class="p" x="-33.3" y="0" width="66.6" height="16"/><rect class="g" x="-33.3" y="16" width="66.6" height="16"/><rect class="d" x="-33.3" y="32" width="66.6" height="32"/><rect class="g" x="-33.3" y="64" width="66.6" height="16"/><rect class="d" x="-33.3" y="80" width="66.6" height="32"/><rect class="g" x="-33.3" y="112" width="66.6" height="32"/><rect class="d" x="-33.3" y="144" width="66.6" height="16"/><rect class="g" x="-33.3" y="160" width="66.6" height="16"/>
<text y="12">fgIsA</text><text y="28">SetNameTitle</text><text y="44">SetTitle</text><text y="60">ShowMembers</text><text y="76">Sizeof</text><text y="92">Streamer</text><text y="108">StreamerNVirtual</text><text y="124">TNamed</text><text y="140">ls</text><text y="156">operator=</text><text y="172">~TNamed</text>
</g>
</g>

<g id="TObject" class="n">
<rect class="b" x="15.7" y="16" width="221.6" height="592"/>
<text class="t" x="126.5" y="36.5">TObject</text>
<g transform="translate(204,49)">
<rect class="p" x="-33.3" y="0" width="66.6" height="80"/><rect class="g" x="-33.3" y="80" width="66.6" height="16"/><rect class="g" x="-33.3" y="112" width="66.6" height="48"/><rect class="d" x="-33.3" y="160" width="66.6" height="16"/><rect class="g" x="-33.3" y="176" width="66.6" height="16"/><rect class="d" x="-33.3" y="192" width="66.6" height="32"/><rect class="g" x="-33.3" y="224" width="66.6" height="64"/><rect class="d" x="-33.3" y="288" width="66.6" height="32"/><rect class="g" x="-33.3" y="320" width="66.6" height="16"/><rect class="d" x="-33.3" y="336" width="66.6" height="16"/><rect class="g" x="-33.3" y="352" width="66.6" height="16"/><rect class="y" x="-33.3" y="368" width="66.6" height="16"/><rect class="g" x="-33.3" y="384" width="66.6" height="160"/>
<text y="12">fBits</text><text y="28">fUniqueID</text><text y="44">fgDtorOnly</text><text y="60">fgIsA</text><text y="76">fgObjectStat</text><text y="92">kBitMask</text><text y="124">AbstractMethod</text><text y="140">AppendPad</text><text y="156">Browse</text><text y="172">Class</text><text y="188">ClassName</text><text y="204">Class_Name</text><text y="220">Class_Version</text><text y="236">Clear</text><text y="252">Clone</text><text y="268">Compare</text><text y="284">Copy</text><text y="300">DeclFileLine</text><text y="316">DeclFileName</text><text y="332">Delete</text><text y="348">Dictionary</text><text y="364">DistancetoPrimitive</text><text y="380">DoError</text><text y="396">Draw</text><text y="412">DrawClass</text><text y="428">DrawClone</text><text y="444">Dump</text><text y="460">Error</text><text y="476">Execute</text><text y="492">ExecuteEvent</text><text y="508">Fatal</text><text y="524">FindObject</text><text y="540">GetDrawOption</text>
</g>
<g transform="translate(126.5,49)">
<rect class="g" x="-33.3" y="0" width="66.6" height="272"/><rect class="d" x="-33.3" y="272" width="66.6" height="32"/><rect class="g" x="-33.3" y="304" width="66.6" height="64"/><rect class="d" x="-33.3" y="368" width="66.6" height="16"/><rect class="g" x="-33.3" y="384" width="66.6" height="80"/><rect class="y" x="-33.3" y="464" width="66.6" height="16"/><rect class="g" x="-33.3" y="480" width="66.6" height="80"/>
<text y="12">kCanDelete</text><text y="28">kCannotPick</text><text y="44">kHasUUID</text><text y="60">kInvalidObject</text><text y="76">kIsOnHeap</text><text y="92">kIsReferenced</text><text y="108">kMustCleanup</text><text y="124">GetDtorOnly</text><text y="140">GetIconName</text><text y="156">GetName</text><text y="172">GetObjectInfo</text><text y="188">GetObjectStat</text><text y="204">GetOption</text><text y="220">GetTitle</text><text y="236">GetUniqueID</text><text y="252">HandleTimer</text><text y="268">Hash</text><text y="284">ImplFileLine</text><text y="300">ImplFileName</text><text y="316">Info</text><text y="332">InheritsFrom</text><text y="348">Inspect</text><text y="364">InvertBit</text><text y="380">IsA</text><text y="396">IsEqual</text><text y="412">IsFolder</text><text y="428">IsOnHeap</text><text y="444">IsSortable</text><text y="460">IsZombie</text><text y="476">MakeZombie</text><text y="492">MayNotUse</text><text y="508">Notify</text><text y="524">Obsolete</text><text y="540">Paint</text><text y="556">Pop</text>
</g>
<g transform="translate(49,49)">
<rect class="g" x="-33.3" y="0" width="66.6" height="288"/><rect class="d" x="-33.3" y="288" width="66.6" height="48"/><rect class="g" x="-33.3" y="336" width="66.6" height="192"/><rect class="d" x="-33.3" y="528" width="66.6" height="16"/><rect class="g" x="-33.3" y="544" width="66.6" height="16"/>
<text y="12">kNoContextMenu</text><text y="28">kNotDeleted</text><text y="44">kObjInCanvas</text><text y="60">kOverwrite</text><text y="76">kSingleKey</text><text y="92">kWriteDelete</text><text y="108">kZombie</text><text y="124">Print</text><text y="140">Read</text><text y="156">RecursiveRemove</text><text y="172">ResetBit</text><text y="188">SaveAs</text><text y="204">SavePrimitive</text><text y="220">SetBit</text><text y="236">SetDrawOption</text><text y="252">SetDtorOnly</text><text y="268">SetObjectStat</text><text y="284">SetUniqueID</text><text y="300">ShowMembers</text><text y="316">Streamer</text><text y="332">StreamerNVirtual</text><text y="348">SysError</text><text y="364">TObject</text><text y="380">TestBit</text><text y="396">TestBits</text><text y="412">UseCurrentStyle</text><text y="428">Warning</text><text y="444">Write</text><text y="460">ls</text><text y="476">operator delete</text><text y="492">operator delete[]</text><text y="508">operator new</text><text y="524">operator new[]</text><text y="540">operator=</text><text y="556">~TObject</text>
</g>
</g>

<g id="edges" class="e">
<path d="M251,47.5H237.5"/>
<path d="M483,47.5H470"/>
<path d="M715,47.5H702"/>
<path d="M480,48C475,150 468,215 460.5,258"/>
<path d="M480,48C472,250 471,400 468,455C466,480 452,505 451,552"/>
<path d="M480,48C472,300 471,450 469,545C466,700 455,800 444.5,884"/>
<path d="M480,48C472,300 471,700 470,900C469,1120 460,1290 443,1404"/>
</g>
</svg>
